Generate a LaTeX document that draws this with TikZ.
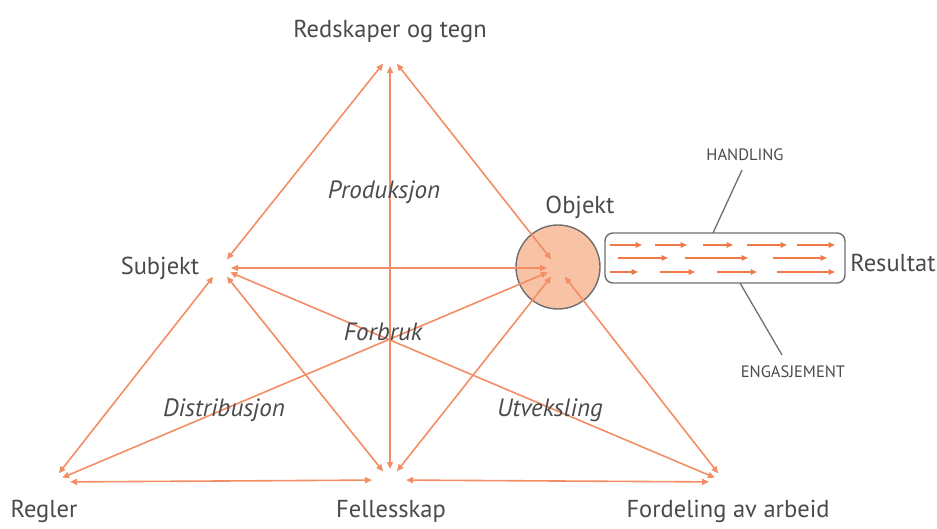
\documentclass[tikz,border=0pt]{standalone}
\usepackage{fontspec}
\setmainfont{PT Sans}
\usetikzlibrary{arrows.meta}
\definecolor{org}{HTML}{F0794A}
\definecolor{txt}{HTML}{4A4A4A}
\definecolor{fillo}{HTML}{F8C2A4}
\definecolor{gr}{HTML}{6E6E6E}
\tikzset{
  link/.style={draw=org!85, line width=1.6pt, {Triangle[length=7pt,width=6pt]}-{Triangle[length=7pt,width=6pt]}, shorten <=#1, shorten >=#1},
  link/.default=11pt,
  flow/.style={draw=org, line width=1.5pt, -{Triangle[length=6.5pt,width=5.5pt]}},
  lab/.style={text=txt, font=\fontsize{24.5}{26}\selectfont, inner sep=0pt},
  ilab/.style={text=txt, font=\fontsize{25}{27}\selectfont\itshape, inner sep=0pt},
  slab/.style={text=txt, font=\fontsize{16.5}{18}\selectfont, inner sep=0pt},
  leader/.style={draw=gr, line width=1.3pt}
}
\begin{document}
\begin{tikzpicture}[x=1pt,y=-1pt]
\useasboundingbox (0,0) rectangle (937,529);
% convergence points
\coordinate (T) at (390,55);
\coordinate (S) at (220,268);
\coordinate (O) at (558,268);
\coordinate (R) at (52,482);
\coordinate (F) at (390,480);
\coordinate (D) at (725,482);
% object circle
\node[circle, draw=gr, line width=1.4pt, fill=fillo, minimum size=84pt, inner sep=0pt] (obj) at (558,267) {};
% activity pill
\node[draw=gr, line width=1.4pt, rounded corners=8pt, minimum width=240pt, minimum height=50pt, inner sep=0pt] (act) at (725,258) {};
% connectors
\draw[link] (T) -- (S);
\draw[link] (T) -- (F);
\draw[link] (T) -- (O);
\draw[link] (S) -- (O);
\draw[link] (S) -- (R);
\draw[link] (S) -- (F);
\draw[link] (S) -- (D);
\draw[link] (R) -- (O);
\draw[link=18pt] (R) -- (F);
\draw[link] (F) -- (O);
\draw[link=16pt] (F) -- (D);
\draw[link] (O) -- (D);
% flow arrows in pill
\foreach \a/\b in {610/642,655/687,703/733,747/787,797/835} \draw[flow] (\a,245) -- (\b,245);
\foreach \a/\b in {618/668,685/748,773/827} \draw[flow] (\a,258) -- (\b,258);
\foreach \a/\b in {610/638,660/695,717/757,777/835} \draw[flow] (\a,272) -- (\b,272);
% labels
\node[lab] (lT) at (390,31) {Redskaper og tegn};
\node[lab] (lS) at (160,268) {Subjekt};
\node[lab] (lO) at (580,207) {Objekt};
\node[lab] (lRes) at (893,263) {Resultat};
\node[lab] (lR) at (44,511) {Regler};
\node[lab] (lF) at (391,511) {Fellesskap};
\node[lab] (lD) at (728,511) {Fordeling av arbeid};
\node[ilab] (p) at (384,192) {Produksjon};
\node[ilab] (fb) at (383,332) {Forbruk};
\node[ilab] (di) at (224,410) {Distribusjon};
\node[ilab] (ut) at (550,410) {Utveksling};
\node[slab] (hand) at (745,155) {HANDLING};
\node[slab] (eng) at (793,372) {ENGASJEMENT};
% leaders
\coordinate (h0) at (742,170);
\coordinate (h1) at (713,233);
\coordinate (e0) at (740,283);
\coordinate (e1) at (782,355);
\draw[leader] (h0) -- (h1);
\draw[leader] (e0) -- (e1);
\end{tikzpicture}
\end{document}
